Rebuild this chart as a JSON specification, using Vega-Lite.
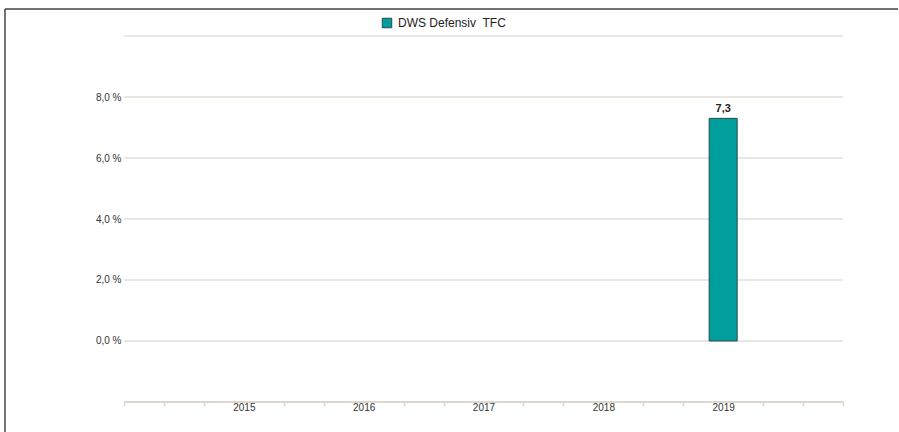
{
  "$schema": "https://vega.github.io/schema/vega-lite/v6.json",
  "width": 894,
  "height": 423,
  "autosize": {"type": "none"},
  "padding": {"left": 5, "top": 9, "right": 0, "bottom": 0},
  "background": "white",
  "config": {
    "view": {"stroke": "#454545", "strokeWidth": 1.5, "strokeDash": [893, 1318, 423, 0], "cornerRadius": 0},
    "font": "Liberation Sans",
    "locale": {"number": {"decimal": ",", "thousands": ".", "grouping": [3], "currency": ["", " €"]}}
  },
  "data": {"values": [{"year": 2019, "value": 7.3, "series": "DWS Defensiv\u00a0 TFC"}]},
  "layer": [
    {
      "data": {"values": [{"g": 0}, {"g": 2}, {"g": 4}, {"g": 6}, {"g": 8}, {"g": 10}]},
      "mark": {"type": "rule", "color": "#e2dfd8", "strokeWidth": 1.5},
      "encoding": {
        "y": {"field": "g", "type": "quantitative", "title": null},
        "x": {"datum": 2014, "type": "quantitative", "title": null},
        "x2": {"datum": 2020}
      }
    },
    {
      "mark": {"type": "rule", "color": "#dcd8cf", "strokeWidth": 2},
      "encoding": {
        "y": {"datum": -2, "type": "quantitative", "title": null},
        "x": {"datum": 2014, "type": "quantitative", "title": null},
        "x2": {"datum": 2020}
      }
    },
    {
      "mark": {"type": "bar", "size": 28, "stroke": "#2b4a4a", "strokeWidth": 1},
      "encoding": {
        "x": {
          "field": "year", "type": "quantitative", "title": null,
          "scale": {"domain": [2013.00695, 2020.46732], "nice": false, "zero": false, "padding": 0},
          "axis": {
            "title": null, "grid": false, "tickCount": 60, "domain": false, "offset": -31,
            "values": [2014, 2014.3333, 2014.6667, 2015, 2015.3333, 2015.6667, 2016, 2016.3333, 2016.6667, 2017, 2017.3333, 2017.6667, 2018, 2018.3333, 2018.6667, 2019, 2019.3333, 2019.6667, 2020],
            "tickColor": "#dcd8cf", "tickWidth": 1.5, "tickSize": 5,
            "tickOpacity": {"condition": {"test": "abs(datum.value - round(datum.value)) < 0.01 && datum.value > 2014.5 && datum.value < 2019.5", "value": 0}, "value": 1},
            "labelExpr": "abs(datum.value - round(datum.value)) < 0.01 && datum.value > 2014.5 && datum.value < 2019.5 ? '' + round(datum.value) : ''",
            "labelFontSize": 10, "labelColor": "#333333", "labelPadding": -4,
            "labelOverlap": false, "labelFlush": false
          }
        },
        "y": {
          "field": "value", "type": "quantitative", "title": null,
          "scale": {"domain": [-2.98361, 10.88525], "nice": false, "zero": false},
          "axis": {
            "title": null, "values": [0, 2, 4, 6, 8], "offset": -119,
            "grid": false, "domain": false, "ticks": false, "labelPadding": 3,
            "labelFontSize": 10, "labelColor": "#333333",
            "labelExpr": "replace(format(datum.value, '.1f'), '.', ',') + ' %'"
          }
        },
        "color": {
          "field": "series", "type": "nominal",
          "scale": {"range": ["#009e9c"]},
          "legend": {
            "title": null, "orient": "none", "legendX": 376, "legendY": 8,
            "padding": 0, "symbolType": "square", "symbolSize": 90,
            "symbolStrokeColor": "#2b4a4a", "symbolStrokeWidth": 1,
            "labelFontSize": 12, "labelColor": "#222222", "labelOffset": 5
          }
        }
      }
    },
    {
      "mark": {"type": "text", "dy": -9, "fontWeight": "bold", "fontSize": 11, "color": "#222222"},
      "encoding": {
        "x": {"field": "year", "type": "quantitative", "title": null},
        "y": {"field": "value", "type": "quantitative", "title": null},
        "text": {"field": "value", "type": "quantitative", "format": ".1f"}
      }
    }
  ]
}
